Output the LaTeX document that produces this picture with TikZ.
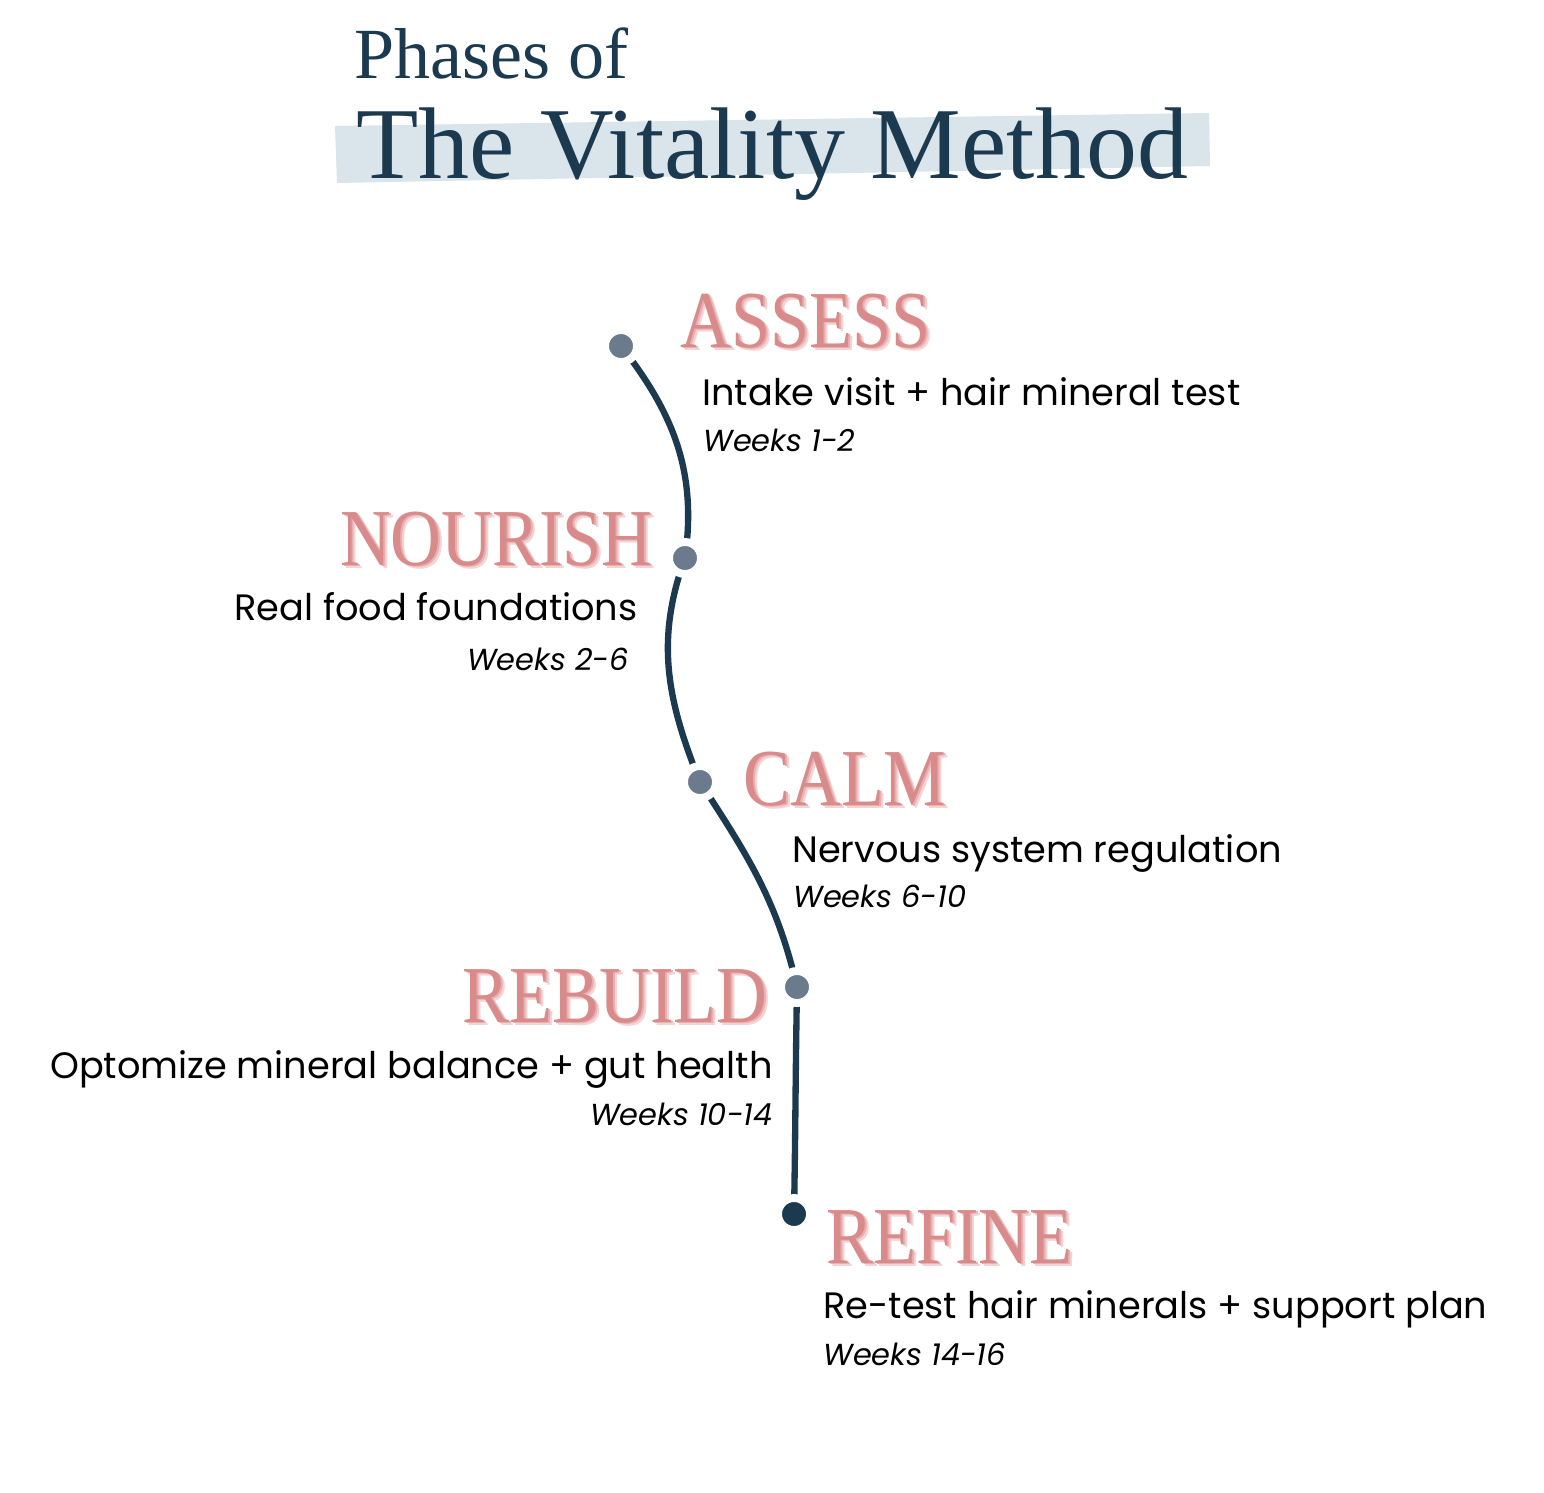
\documentclass[tikz,border=0pt]{standalone}
\usepackage{fontspec}
\setmainfont{Poppins}
\newfontfamily\headfont{Liberation Serif}
\usepackage{graphicx}
\usepackage{tikz}
\usetikzlibrary{positioning, backgrounds}
\definecolor{navy}{HTML}{1B3A4F}
\definecolor{slate}{HTML}{6B7B8D}
\definecolor{rose}{HTML}{D98B8B}
\definecolor{roseshade}{HTML}{E8B0B0}
\definecolor{roselight}{HTML}{F3D4D4}
\definecolor{bandblue}{HTML}{D9E4EB}
\newcommand{\phaseword}[1]{\scalebox{0.87}[1]{%
  \rlap{\hspace{2.6pt}\raisebox{-2.2pt}{\color{roselight}#1}}%
  \rlap{\hspace{1.3pt}\raisebox{-1.1pt}{\color{roseshade}#1}}%
  {\color{rose}#1}}}
\tikzset{head_t/.style={inner sep=0pt, text=navy, anchor=base west},
phase/.style={inner sep=0pt, font=\headfont\fontsize{46}{46}\selectfont},
detail/.style={inner sep=0pt, font=\fontsize{20.9}{24}\selectfont},
weeks_t/.style={inner sep=0pt, font=\itshape\fontsize{17.3}{20}\selectfont},
dot/.style={circle, inner sep=0pt, minimum size=0.64cm, fill=slate, draw=white, line width=4.5pt},
trail/.style={draw=navy, line width=3.6pt}}

\begin{document}
\begin{tikzpicture}[x=0.02cm, y=0.02cm]
  \useasboundingbox (0,0) rectangle (1544,-1492);
  % Titre
  \fill[bandblue] (335,-126) -- (1209,-113) -- (1210,-166) -- (337,-183) -- cycle;
  \node[head_t, font=\headfont\fontsize{41}{41}\selectfont] (kicker) at (354,-78) {Phases of};
  \node[head_t, font=\headfont\fontsize{58}{58}\selectfont] (title) at (356,-178) {The Vitality Method};
  % Jalons
  \node[dot] (s1) at (621,-346) {};
  \node[dot] (s2) at (685,-558) {};
  \node[dot] (s3) at (700,-782) {};
  \node[dot] (s4) at (797,-987) {};
  \node[dot, fill=navy] (s5) at (794,-1214) {};
  \begin{scope}[on background layer]
    \draw[trail] (s1.center) to[out=-52, in=82] (s2.center)
      to[out=-110, in=112] (s3.center)
      to[out=-57, in=103] (s4.center)
      to[out=-91, in=89] (s5.center);
  \end{scope}
  % ASSESS
  \node[phase, anchor=base west] (assess) at (680,-347) {\phaseword{ASSESS}};
  \node[detail, anchor=base west] (assess_d) at (702,-405) {Intake visit + hair mineral test};
  \node[weeks_t, anchor=base west] (assess_w) at (703,-451) {Weeks 1-2};
  % NOURISH
  \node[phase, anchor=base east] (nourish) at (653,-565) {\phaseword{NOURISH}};
  \node[detail, anchor=base east] (nourish_d) at (638,-620) {Real food foundations};
  \node[weeks_t, anchor=base east] (nourish_w) at (629,-670) {Weeks 2-6};
  % CALM
  \node[phase, anchor=base west] (calm) at (743,-805) {\phaseword{CALM}};
  \node[detail, anchor=base west] (calm_d) at (792,-862) {Nervous system regulation};
  \node[weeks_t, anchor=base west] (calm_w) at (793,-907) {Weeks 6-10};
  % REBUILD
  \node[phase, anchor=base east] (rebuild) at (768,-1022) {\phaseword{REBUILD}};
  \node[detail, anchor=base east] (rebuild_d) at (773,-1078) {Optomize mineral balance + gut health};
  \node[weeks_t, anchor=base east] (rebuild_w) at (773,-1125) {Weeks 10-14};
  % REFINE
  \node[phase, anchor=base west] (refine) at (826,-1263) {\phaseword{REFINE}};
  \node[detail, anchor=base west] (refine_d) at (823,-1318) {Re-test hair minerals + support plan};
  \node[weeks_t, anchor=base west] (refine_w) at (823,-1365) {Weeks 14-16};
\end{tikzpicture}
\end{document}
